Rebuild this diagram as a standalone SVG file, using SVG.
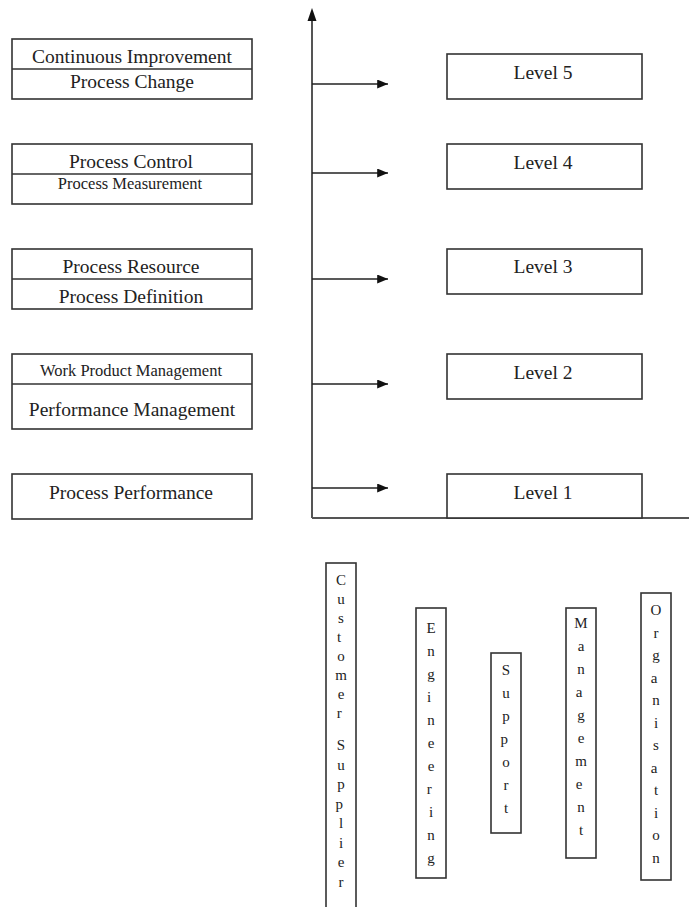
<svg xmlns="http://www.w3.org/2000/svg" width="689" height="907" viewBox="0 0 689 907">
  <style>
    .box { fill: #ffffff; stroke: #333333; stroke-width: 1.6; }
    .sep { stroke: #333333; stroke-width: 1.4; }
    .lbl { font-family: "Liberation Serif", "Times New Roman", serif; font-size: 19.5px; fill: #222222; text-anchor: middle; }
    .sm { font-size: 16.5px; }
    .vt { font-family: "Liberation Serif", "Times New Roman", serif; font-size: 15px; fill: #222222; text-anchor: middle; }
    .axis { stroke: #555555; stroke-width: 2; fill: none; }
    .arrow { stroke: #222222; stroke-width: 1.6; fill: none; marker-end: url(#head); }
  </style>
  <defs>
    <marker id="head" viewBox="0 0 12 10" refX="12" refY="5" markerWidth="12" markerHeight="9" markerUnits="userSpaceOnUse" orient="auto">
      <path d="M0,0 L12,5 L0,10 Z" fill="#111111"/>
    </marker>
  </defs>
  <rect width="689" height="907" fill="#ffffff"/>

  <!-- process attribute boxes (left column) -->
  <g id="pa-level5">
    <rect class="box" x="12" y="39" width="240" height="60"/>
    <line class="sep" x1="12" y1="69" x2="252" y2="69"/>
    <text class="lbl" x="132" y="63">Continuous Improvement</text>
    <text class="lbl" x="132" y="88">Process Change</text>
  </g>
  <g id="pa-level4">
    <rect class="box" x="12" y="144" width="240" height="60"/>
    <line class="sep" x1="12" y1="174" x2="252" y2="174"/>
    <text class="lbl" x="131" y="168">Process Control</text>
    <text class="lbl sm" x="130" y="189">Process Measurement</text>
  </g>
  <g id="pa-level3">
    <rect class="box" x="12" y="249" width="240" height="60"/>
    <line class="sep" x1="12" y1="279" x2="252" y2="279"/>
    <text class="lbl" x="131" y="273">Process Resource</text>
    <text class="lbl" x="131" y="303">Process Definition</text>
  </g>
  <g id="pa-level2">
    <rect class="box" x="12" y="354" width="240" height="75"/>
    <line class="sep" x1="12" y1="384" x2="252" y2="384"/>
    <text class="lbl sm" x="131" y="376">Work Product Management</text>
    <text class="lbl" x="132" y="416">Performance Management</text>
  </g>
  <g id="pa-level1">
    <rect class="box" x="12" y="474" width="240" height="45"/>
    <text class="lbl" x="131" y="499">Process Performance</text>
  </g>

  <!-- axes and arrows -->
  <g id="connectors">
    <line class="axis" x1="312" y1="518" x2="312" y2="20"/>
    <path d="M307.5,21 L312,8 L316.5,21 Z" fill="#111111"/>
    <line class="axis" x1="312" y1="518" x2="689" y2="518"/>
    <line class="arrow" x1="312" y1="84" x2="388" y2="84"/>
    <line class="arrow" x1="312" y1="173" x2="388" y2="173"/>
    <line class="arrow" x1="312" y1="279" x2="388" y2="279"/>
    <line class="arrow" x1="312" y1="384" x2="388" y2="384"/>
    <line class="arrow" x1="312" y1="488" x2="388" y2="488"/>
  </g>

  <!-- capability levels -->
  <g id="level5">
    <rect class="box" x="447" y="54" width="195" height="45"/>
    <text class="lbl" x="543" y="79">Level 5</text>
  </g>
  <g id="level4">
    <rect class="box" x="447" y="144" width="195" height="45"/>
    <text class="lbl" x="543" y="169">Level 4</text>
  </g>
  <g id="level3">
    <rect class="box" x="447" y="249" width="195" height="45"/>
    <text class="lbl" x="543" y="273">Level 3</text>
  </g>
  <g id="level2">
    <rect class="box" x="447" y="354" width="195" height="45"/>
    <text class="lbl" x="543" y="379">Level 2</text>
  </g>
  <g id="level1">
    <rect class="box" x="447" y="474" width="195" height="44"/>
    <text class="lbl" x="543" y="499">Level 1</text>
  </g>

  <!-- process categories (vertical labels) -->
  <g id="cat-customer-supplier">
    <rect class="box" x="326" y="563" width="30" height="350"/>
    <text class="vt">
      <tspan x="341" y="585">C</tspan><tspan x="341" y="604">u</tspan><tspan x="341" y="623">s</tspan><tspan x="341" y="642">t</tspan>
      <tspan x="341" y="661">o</tspan><tspan x="341" y="680">m</tspan><tspan x="341" y="699">e</tspan><tspan x="341" y="718">r</tspan>
      <tspan x="341" y="750">S</tspan><tspan x="341" y="769.5">u</tspan><tspan x="341" y="789">p</tspan><tspan x="341" y="808.5">p</tspan>
      <tspan x="341" y="828">l</tspan><tspan x="341" y="847.5">i</tspan><tspan x="341" y="867">e</tspan><tspan x="341" y="886.5">r</tspan>
    </text>
  </g>
  <g id="cat-engineering">
    <rect class="box" x="416" y="608" width="30" height="270"/>
    <text class="vt">
      <tspan x="431" y="633">E</tspan><tspan x="431" y="656">n</tspan><tspan x="431" y="679">g</tspan><tspan x="431" y="702">i</tspan>
      <tspan x="431" y="725">n</tspan><tspan x="431" y="748">e</tspan><tspan x="431" y="771">e</tspan><tspan x="431" y="794">r</tspan>
      <tspan x="431" y="817">i</tspan><tspan x="431" y="840">n</tspan><tspan x="431" y="863">g</tspan>
    </text>
  </g>
  <g id="cat-support">
    <rect class="box" x="491" y="653" width="30" height="180"/>
    <text class="vt">
      <tspan x="506" y="675">S</tspan><tspan x="506" y="698">u</tspan><tspan x="506" y="721">p</tspan><tspan x="506" y="744">p</tspan>
      <tspan x="506" y="767">o</tspan><tspan x="506" y="790">r</tspan><tspan x="506" y="813">t</tspan>
    </text>
  </g>
  <g id="cat-management">
    <rect class="box" x="566" y="608" width="30" height="250"/>
    <text class="vt">
      <tspan x="581" y="628">M</tspan><tspan x="581" y="651">a</tspan><tspan x="581" y="674">n</tspan><tspan x="581" y="697">a</tspan>
      <tspan x="581" y="720">g</tspan><tspan x="581" y="743">e</tspan><tspan x="581" y="766">m</tspan><tspan x="581" y="789">e</tspan>
      <tspan x="581" y="812">n</tspan><tspan x="581" y="835">t</tspan>
    </text>
  </g>
  <g id="cat-organisation">
    <rect class="box" x="641" y="593" width="30" height="287"/>
    <text class="vt">
      <tspan x="656" y="615">O</tspan><tspan x="656" y="637.5">r</tspan><tspan x="656" y="660">g</tspan><tspan x="656" y="682.5">a</tspan>
      <tspan x="656" y="705">n</tspan><tspan x="656" y="727.5">i</tspan><tspan x="656" y="750">s</tspan><tspan x="656" y="772.5">a</tspan>
      <tspan x="656" y="795">t</tspan><tspan x="656" y="817.5">i</tspan><tspan x="656" y="840">o</tspan><tspan x="656" y="862.5">n</tspan>
    </text>
  </g>
</svg>
